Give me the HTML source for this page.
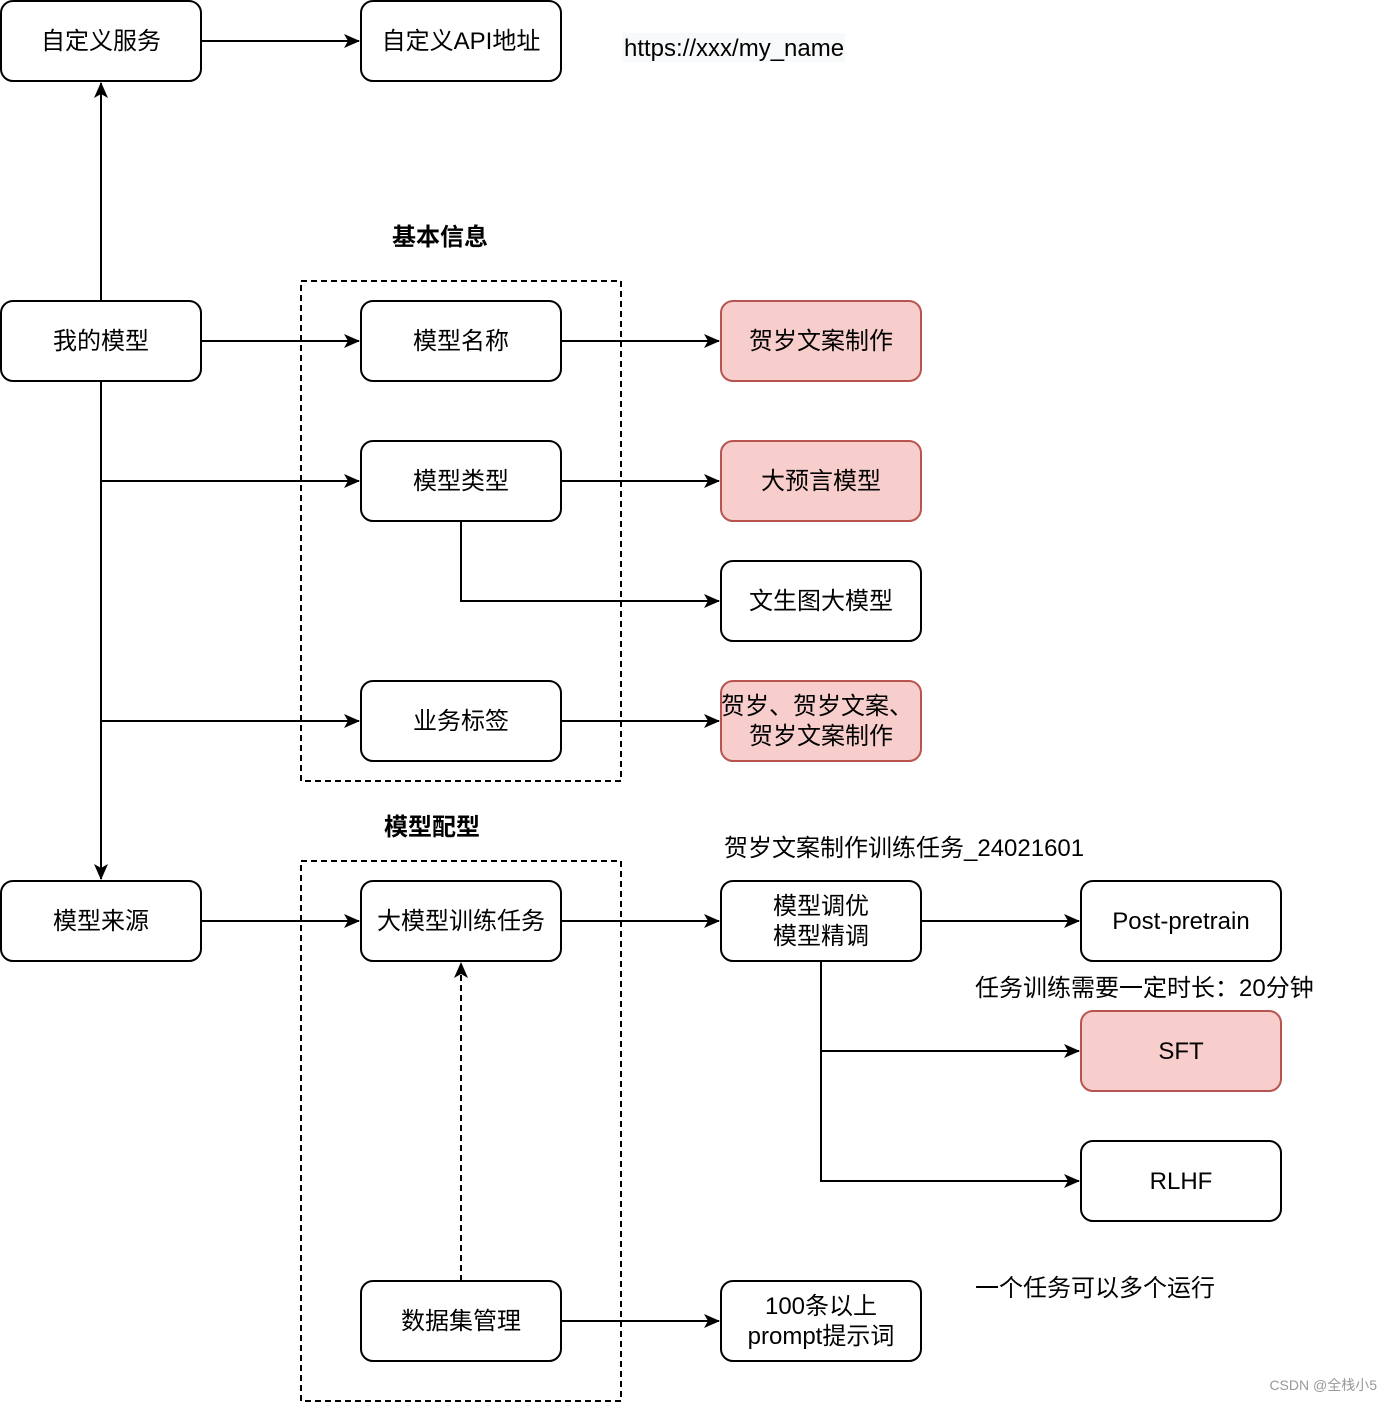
<!DOCTYPE html>
<html><head><meta charset="utf-8"><style>
html,body{margin:0;padding:0;background:#fff;}
svg{display:block;}
text{font-family:"Liberation Sans","Noto Sans CJK SC",sans-serif;font-size:24px;fill:#000;}
</style></head><body>
<svg width="1392" height="1402" viewBox="0 0 1392 1402" xmlns="http://www.w3.org/2000/svg">
<defs>
<marker id="a" viewBox="0 0 16 14" refX="15" refY="7" markerWidth="16" markerHeight="14" markerUnits="userSpaceOnUse" orient="auto">
<path d="M0,0 L16,7 L0,14 L4,7 Z" fill="#000"/>
</marker>
</defs>
<g fill="none" stroke="#000" stroke-width="2" stroke-dasharray="6,4">
<rect x="301" y="281" width="320" height="500"/>
<rect x="301" y="861" width="320" height="540"/>
</g>
<g fill="none" stroke="#000" stroke-width="2">
<line x1="201" y1="41" x2="359" y2="41" marker-end="url(#a)"/>
<line x1="101" y1="301" x2="101" y2="83" marker-end="url(#a)"/>
<line x1="101" y1="381" x2="101" y2="879" marker-end="url(#a)"/>
<line x1="201" y1="341" x2="359" y2="341" marker-end="url(#a)"/>
<line x1="101" y1="481" x2="359" y2="481" marker-end="url(#a)"/>
<line x1="101" y1="721" x2="359" y2="721" marker-end="url(#a)"/>
<line x1="561" y1="341" x2="719" y2="341" marker-end="url(#a)"/>
<line x1="561" y1="481" x2="719" y2="481" marker-end="url(#a)"/>
<polyline points="461,521 461,601 719,601" marker-end="url(#a)"/>
<line x1="561" y1="721" x2="719" y2="721" marker-end="url(#a)"/>
<line x1="201" y1="921" x2="359" y2="921" marker-end="url(#a)"/>
<line x1="561" y1="921" x2="719" y2="921" marker-end="url(#a)"/>
<line x1="921" y1="921" x2="1079" y2="921" marker-end="url(#a)"/>
<polyline points="821,961 821,1051 1079,1051" marker-end="url(#a)"/>
<polyline points="821,1051 821,1181 1079,1181" marker-end="url(#a)"/>
<line x1="561" y1="1321" x2="719" y2="1321" marker-end="url(#a)"/>
<line x1="461" y1="1281" x2="461" y2="963" stroke-dasharray="6,4" marker-end="url(#a)"/>
</g>
<g stroke="#000" stroke-width="2" fill="#fff">
<rect x="1" y="1" width="200" height="80" rx="12"/>
<rect x="361" y="1" width="200" height="80" rx="12"/>
<rect x="1" y="301" width="200" height="80" rx="12"/>
<rect x="361" y="301" width="200" height="80" rx="12"/>
<rect x="361" y="441" width="200" height="80" rx="12"/>
<rect x="721" y="561" width="200" height="80" rx="12"/>
<rect x="361" y="681" width="200" height="80" rx="12"/>
<rect x="1" y="881" width="200" height="80" rx="12"/>
<rect x="361" y="881" width="200" height="80" rx="12"/>
<rect x="721" y="881" width="200" height="80" rx="12"/>
<rect x="1081" y="881" width="200" height="80" rx="12"/>
<rect x="1081" y="1141" width="200" height="80" rx="12"/>
<rect x="361" y="1281" width="200" height="80" rx="12"/>
<rect x="721" y="1281" width="200" height="80" rx="12"/>
</g>
<g stroke="#b85450" stroke-width="2" fill="#f8cecc">
<rect x="721" y="301" width="200" height="80" rx="12"/>
<rect x="721" y="441" width="200" height="80" rx="12"/>
<rect x="721" y="681" width="200" height="80" rx="12"/>
<rect x="1081" y="1011" width="200" height="80" rx="12"/>
</g>
<rect x="622" y="33" width="223" height="29" fill="#f8f9fa"/>
<g text-anchor="middle">
<text x="101" y="49">自定义服务</text>
<text x="461" y="49">自定义API地址</text>
<text x="101" y="349">我的模型</text>
<text x="461" y="349">模型名称</text>
<text x="821" y="349">贺岁文案制作</text>
<text x="461" y="489">模型类型</text>
<text x="821" y="489">大预言模型</text>
<text x="821" y="609">文生图大模型</text>
<text x="461" y="729">业务标签</text>
<text x="817" y="714">贺岁、贺岁文案、</text>
<text x="821" y="744">贺岁文案制作</text>
<text x="101" y="929">模型来源</text>
<text x="461" y="929">大模型训练任务</text>
<text x="821" y="914">模型调优</text>
<text x="821" y="944">模型精调</text>
<text x="1181" y="929">Post-pretrain</text>
<text x="1181" y="1059">SFT</text>
<text x="1181" y="1189">RLHF</text>
<text x="461" y="1329">数据集管理</text>
<text x="821" y="1314">100条以上</text>
<text x="821" y="1344">prompt提示词</text>
<text x="440" y="245" font-weight="bold">基本信息</text>
<text x="432" y="835" font-weight="bold">模型配型</text>
</g>
<text x="624" y="56">https://xxx/my_name</text>
<text x="724" y="856">贺岁文案制作训练任务_24021601</text>
<text x="975" y="996">任务训练需要一定时长：20分钟</text>
<text x="975" y="1296">一个任务可以多个运行</text>
<text x="1377" y="1390" text-anchor="end" style="font-size:14px;fill:#999">CSDN @全栈小5</text>
</svg>
</body></html>
